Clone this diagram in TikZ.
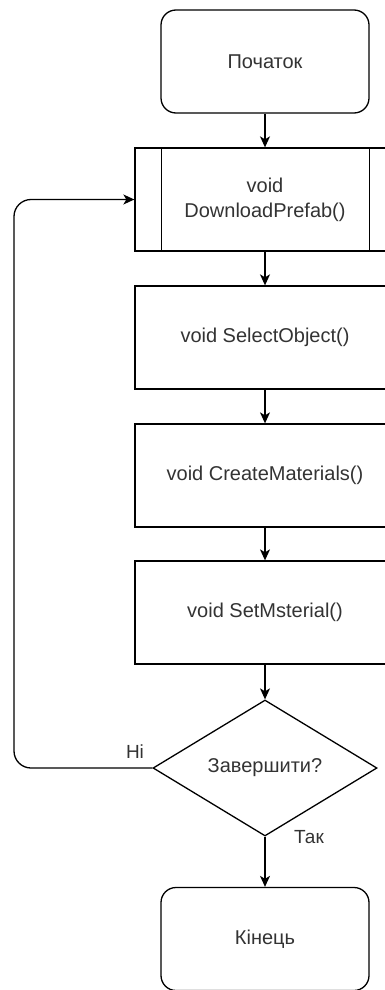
\documentclass[tikz,border=0pt]{standalone}
\usepackage{fontspec}
\setmainfont{Liberation Sans}
\usetikzlibrary{shapes.geometric,arrows.meta}
\definecolor{txt}{HTML}{333333}
\tikzset{
  x=1pt, y=-1pt,
  every node/.style={font=\fontsize{20}{25}\selectfont, text=txt, align=center},
  terminal/.style={draw, line width=1.3pt, rounded corners=15pt, minimum width=208pt, minimum height=103pt, inner sep=0pt},
  procbox/.style={draw, line width=1.3pt, minimum width=260pt, minimum height=103pt, inner sep=0pt},
  decision/.style={draw, diamond, line width=1.3pt, minimum width=224pt, minimum height=136pt, inner sep=0pt},
  flow/.style={line width=1.3pt, -{Stealth[length=11pt,width=10pt,inset=3pt]}},
  edgelabel/.style={font=\fontsize{19}{22}\selectfont, text=txt}
}
\begin{document}
\begin{tikzpicture}
\useasboundingbox (0,0) rectangle (385,990);
\clip (0,0) rectangle (385,990);

\node[terminal] (start) at (265,61.5) {Початок};
\node[procbox] (dl) at (265,199.5) {void\\DownloadPrefab()};
\draw[line width=1.3pt] ([xshift=27pt]dl.north west) -- ([xshift=27pt]dl.south west);
\draw[line width=1.3pt] ([xshift=-26pt]dl.north east) -- ([xshift=-26pt]dl.south east);
\node[procbox] (sel) at (265,337.5) {void SelectObject()};
\node[procbox] (cm) at (265,475.5) {void CreateMaterials()};
\node[procbox] (sm) at (265,612.5) {void SetMsterial()};
\node[decision] (dec) at (265,768) {Завершити?};
\node[terminal] (fin) at (265,939) {Кінець};

\coordinate (lb) at (14,768);
\coordinate (lt) at (14,199.5);

\draw[flow] (start) -- (dl);
\draw[flow] (dl) -- (sel);
\draw[flow] (sel) -- (cm);
\draw[flow] (cm) -- (sm);
\draw[flow] (sm) -- (dec);
\draw[flow] (dec) -- (fin);
\draw[flow, rounded corners=17pt] (dec.west) -- (lb) -- (lt) -- (dl.west);

\node[edgelabel] (no) at (135,752) {Ні};
\node[edgelabel] (yes) at (309,837) {Так};
\end{tikzpicture}
\end{document}
